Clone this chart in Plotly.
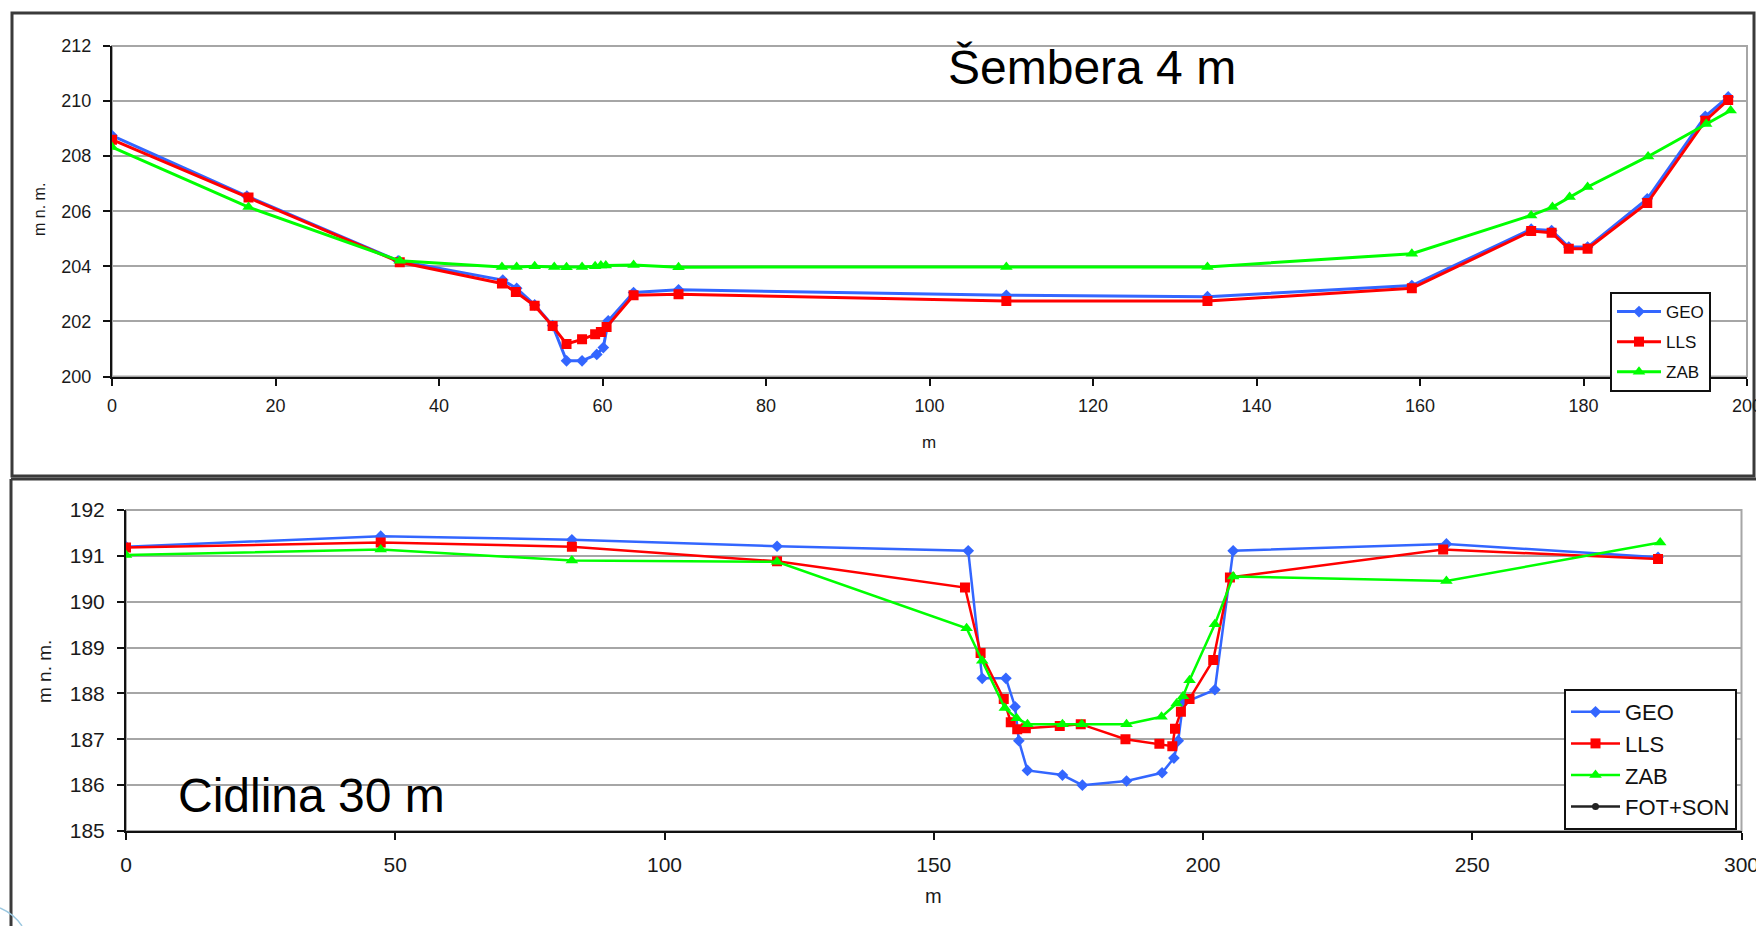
import plotly.graph_objects as go

# ---------------- data: Šembera 4 m (top) ----------------
top_geo_x = [0, 16.5, 35, 47.8, 49.5, 51.7, 53.9, 55.6, 57.5, 59.3, 60.1, 60.7, 63.8, 69.3, 109.4, 134, 159, 173.6, 176.1, 178.2, 180.5, 187.8, 194.9, 197.7]
top_geo_y = [208.75, 206.55, 204.2, 203.5, 203.2, 202.6, 201.85, 200.57, 200.57, 200.8, 201.05, 202.02, 203.05, 203.15, 202.95, 202.9, 203.3, 205.35, 205.3, 204.7, 204.7, 206.45, 209.45, 210.15]

top_lls_x = [0, 16.7, 35.2, 47.7, 49.4, 51.7, 53.9, 55.6, 57.5, 59.1, 59.8, 60.5, 63.8, 69.3, 109.4, 134, 159, 173.6, 176.1, 178.2, 180.5, 187.8, 194.9, 197.7]
top_lls_y = [208.6, 206.5, 204.15, 203.38, 203.07, 202.57, 201.83, 201.18, 201.35, 201.53, 201.62, 201.8, 202.95, 202.99, 202.74, 202.74, 203.2, 205.28, 205.22, 204.64, 204.64, 206.3, 209.29, 210.04]

top_zab_x = [0, 16.7, 35.2, 47.7, 49.5, 51.7, 54.1, 55.6, 57.5, 59.1, 59.8, 60.4, 63.8, 69.3, 109.4, 134, 159, 173.6, 176.2, 178.3, 180.5, 187.9, 195, 198]
top_zab_y = [208.33, 206.15, 204.2, 203.98, 203.98, 204.0, 203.98, 203.97, 203.98, 204.0, 204.03, 204.03, 204.05, 203.97, 203.98, 203.98, 204.46, 205.85, 206.15, 206.52, 206.88, 207.99, 209.17, 209.66]

# ---------------- data: Cidlina 30 m (bottom) ----------------
bot_geo_x = [0, 47.3, 82.8, 120.9, 156.4, 159.0, 163.4, 165.1, 165.8, 167.4, 173.9, 177.6, 185.8, 192.4, 194.6, 195.4, 196.3, 202.2, 205.6, 245.2, 284.5]
bot_geo_y = [191.2, 191.43, 191.35, 191.21, 191.11, 188.33, 188.33, 187.71, 186.97, 186.32, 186.22, 186.0, 186.09, 186.27, 186.59, 186.97, 187.79, 188.08, 191.11, 191.26, 190.97]

bot_lls_x = [0, 47.3, 82.8, 120.9, 155.8, 158.7, 163.0, 164.3, 165.5, 167.1, 173.4, 177.3, 185.6, 191.9, 194.3, 194.8, 195.9, 197.5, 201.9, 205.0, 244.6, 284.5]
bot_lls_y = [191.18, 191.29, 191.2, 190.88, 190.31, 188.88, 187.88, 187.37, 187.22, 187.24, 187.29, 187.33, 187.0, 186.9, 186.85, 187.23, 187.6, 187.88, 188.73, 190.53, 191.14, 190.93]

bot_zab_x = [0, 47.3, 82.8, 120.9, 156.1, 159.0, 163.2, 165.4, 167.4, 173.9, 177.5, 185.8, 192.3, 195.1, 196.3, 197.5, 202.2, 205.6, 245.2, 284.9]
bot_zab_y = [191.02, 191.14, 190.9, 190.87, 189.42, 188.71, 187.68, 187.46, 187.33, 187.33, 187.33, 187.33, 187.49, 187.78, 187.94, 188.29, 189.51, 190.55, 190.45, 191.29]

bot_fot_x = []
bot_fot_y = []

series_names = ["GEO", "LLS", "ZAB", "FOT+SON"]
top_ticks_x = list(range(0, 201, 20))
top_ticks_y = list(range(200, 213, 2))
bot_ticks_x = list(range(0, 301, 50))
bot_ticks_y = list(range(185, 193, 1))

# ---------------- geometry ----------------
W, H = 1756, 926

def px(x):
    return x / W

def py(y):
    return (H - y) / H

BLUE, RED, GREEN, BLACK = "#3366ff", "#ff0000", "#00ff00", "#222222"
FONT = "Liberation Sans, Arial, sans-serif"
GRID = "#a6a6a6"
TICKC = "#1a1a1a"

fig = go.Figure()

def add(x, y, name, color, symbol, size, width, xa, ya, legend):
    fig.add_trace(go.Scatter(
        x=x if x else [None], y=y if y else [None], name=name, mode="lines+markers",
        line=dict(color=color, width=width),
        marker=dict(color=color, symbol=symbol, size=size),
        xaxis=xa, yaxis=ya, legend=legend, legendgroup=legend + name,
    ))

add(top_geo_x, top_geo_y, series_names[0], BLUE, "diamond", 9, 3, "x", "y", "legend")
add(top_lls_x, top_lls_y, series_names[1], RED, "square", 10, 3, "x", "y", "legend")
add(top_zab_x, top_zab_y, series_names[2], GREEN, "triangle-up", 11, 3, "x", "y", "legend")

add(bot_geo_x, bot_geo_y, series_names[0], BLUE, "diamond", 9, 2.5, "x2", "y2", "legend2")
add(bot_lls_x, bot_lls_y, series_names[1], RED, "square", 10, 2.5, "x2", "y2", "legend2")
add(bot_zab_x, bot_zab_y, series_names[2], GREEN, "triangle-up", 11, 2.5, "x2", "y2", "legend2")
add(bot_fot_x, bot_fot_y, series_names[3], BLACK, "circle", 7, 2.5, "x2", "y2", "legend2")

def xaxis(domain, rng, ticks, anchor, fs, standoff):
    return dict(domain=domain, range=rng, tickvals=ticks, anchor=anchor, automargin=False,
                showgrid=False, zeroline=False, showline=True, linecolor="#111",
                linewidth=2, ticks="outside", ticklen=7, tickwidth=2, tickcolor="#111",
                tickfont=dict(family=FONT, size=fs, color=TICKC),
                ticklabelstandoff=standoff, ticklabeloverflow="allow")

def yaxis(domain, rng, ticks, anchor, fs):
    return dict(domain=domain, range=rng, tickvals=ticks, anchor=anchor, automargin=False,
                showgrid=True, gridcolor=GRID, gridwidth=2, zeroline=False,
                showline=True, linecolor="#111", linewidth=2, ticks="outside",
                ticklen=7, tickwidth=2, tickcolor="#111",
                tickfont=dict(family=FONT, size=fs, color=TICKC), ticklabelstandoff=8)

fig.update_layout(
    width=W, height=H, margin=dict(l=0, r=0, t=0, b=0, autoexpand=False),
    paper_bgcolor="white", plot_bgcolor="white",
    font=dict(family=FONT, color="#111"),
    xaxis=xaxis([px(112), px(1747)], [0, 200], top_ticks_x, "y", 18, 5),
    yaxis=yaxis([py(376.5), py(46)], [200, 212], top_ticks_y, "x", 18),
    xaxis2=xaxis([px(126), px(1741.5)], [0, 300], bot_ticks_x, "y2", 21, 7),
    yaxis2=yaxis([py(831), py(510)], [185, 192], bot_ticks_y, "x2", 21),
    legend=dict(x=px(1610), y=py(292), xanchor="left", yanchor="top",
                bgcolor="white", bordercolor="#111", borderwidth=2,
                font=dict(family=FONT, size=17, color="#111"),
                tracegroupgap=5, itemwidth=44, traceorder="grouped"),
    legend2=dict(x=px(1564), y=py(689), xanchor="left", yanchor="top",
                 bgcolor="white", bordercolor="#111", borderwidth=2,
                 font=dict(family=FONT, size=22, color="#111"),
                 tracegroupgap=0, itemwidth=49, traceorder="grouped"),
    showlegend=True,
)

shapes = []
for xr, yr in (("x domain", "y domain"), ("x2 domain", "y2 domain")):
    shapes.append(dict(type="rect", xref=xr, yref=yr, x0=0, y0=0, x1=1, y1=1,
                       line=dict(color=GRID, width=2), layer="below"))
FRAME = dict(color="#3a3a3a", width=3)
shapes.append(dict(type="rect", xref="paper", yref="paper", x0=px(12), y0=py(476), x1=px(1754), y1=py(13),
                   line=FRAME, layer="below"))
shapes.append(dict(type="line", xref="paper", yref="paper", x0=px(11), y0=py(479), x1=1, y1=py(479),
                   line=FRAME, layer="below"))
shapes.append(dict(type="line", xref="paper", yref="paper", x0=px(11), y0=py(479), x1=px(11), y1=0,
                   line=FRAME, layer="below"))
# decorative slide curve bottom-left
shapes.append(dict(type="path", xref="paper", yref="paper",
                   path=f"M 0 {py(908)} Q {px(14)} {py(914)} {px(22)} {py(926)}",
                   line=dict(color="#9cc8e0", width=1.5)))
fig.update_layout(shapes=shapes)

ann = [
    dict(text="Šembera 4 m", x=px(946), y=py(68), xanchor="left", yanchor="middle",
         font=dict(family=FONT, size=48, color="black")),
    dict(text="Cidlina 30 m", x=px(176), y=py(795), xanchor="left", yanchor="middle",
         font=dict(family=FONT, size=48, color="black")),
    dict(text="m", x=px(929), y=py(442), xanchor="center", yanchor="middle",
         font=dict(family=FONT, size=17, color=TICKC)),
    dict(text="m", x=px(933), y=py(896), xanchor="center", yanchor="middle",
         font=dict(family=FONT, size=20, color=TICKC)),
    dict(text="m n. m.", x=px(39), y=py(210), xanchor="center", yanchor="middle", textangle=-90,
         font=dict(family=FONT, size=16, color=TICKC)),
    dict(text="m n. m.", x=px(44), y=py(672), xanchor="center", yanchor="middle", textangle=-90,
         font=dict(family=FONT, size=19, color=TICKC)),
]
for a in ann:
    a.update(xref="paper", yref="paper", showarrow=False)
fig.update_layout(annotations=ann)

fig.write_html("out.html")
